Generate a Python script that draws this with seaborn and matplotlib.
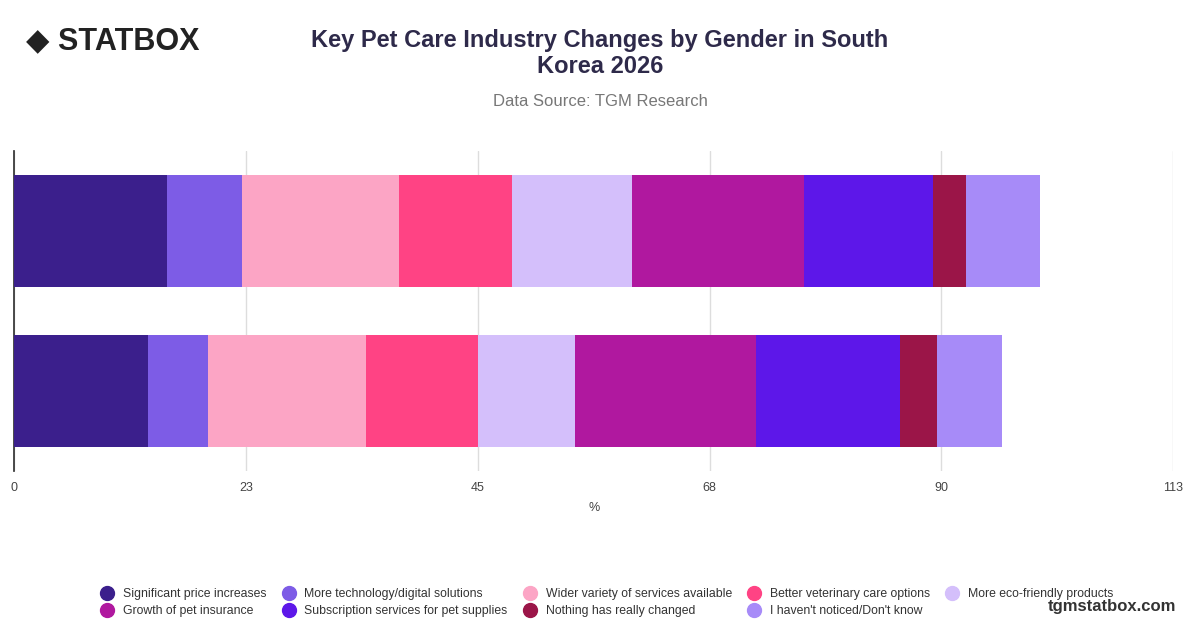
import numpy as np
import pandas as pd
import matplotlib.pyplot as plt
from matplotlib.lines import Line2D
import seaborn as sns

# data
genders = ["Male", "Female"]
categories = [
    "Significant price increases",
    "More technology/digital solutions",
    "Wider variety of services available",
    "Better veterinary care options",
    "More eco-friendly products",
    "Growth of pet insurance",
    "Subscription services for pet supplies",
    "Nothing has really changed",
    "I haven't noticed/Don't know",
]
male_vals = [14.8, 7.3, 15.3, 10.9, 11.7, 16.7, 12.5, 3.2, 7.2]
female_vals = [13.0, 5.8, 15.4, 10.8, 9.4, 17.6, 14.0, 3.6, 6.3]
colors = ["#3b1f8c", "#7d5ce6", "#fca5c5", "#ff4384", "#d4bffb",
          "#b0189f", "#5d17e9", "#9b1548", "#a78bf8"]
tick_vals = [0, 22.5, 45, 67.5, 90, 112.5]
tick_labels = ["0", "23", "45", "68", "90", "113"]

df = pd.DataFrame({"Male": male_vals, "Female": female_vals}, index=categories)

sns.set_theme(style="white")
plt.rcParams['font.family'] = ['Liberation Sans', 'DejaVu Sans']

fig = plt.figure(figsize=(12, 6.28), dpi=100)
ax = fig.add_axes([0.0117, 0.25, 0.966, 0.51])

left = np.zeros(len(genders))
for cat, col in zip(categories, colors):
    vals = df.loc[cat, genders].values
    ax.barh(range(len(genders)), vals, left=left, height=0.7, color=col, edgecolor="none", zorder=3)
    left += vals

ax.set_xlim(0, 112.5)
ax.set_ylim(1.5, -0.5)
ax.set_yticks([])
ax.set_xticks(tick_vals)
ax.set_xticklabels(tick_labels, fontsize=9, color="#444444")
ax.tick_params(axis="x", length=0, pad=8)
ax.xaxis.grid(True, color="#dddddd", linewidth=1, zorder=0)
for s in ["top", "right", "bottom"]:
    ax.spines[s].set_visible(False)
ax.spines["left"].set_color("#333333")
ax.set_xlabel("%", fontsize=9, color="#444444", labelpad=6)

fig.text(0.5, 0.915, "Key Pet Care Industry Changes by Gender in South\nKorea 2026",
         ha="center", va="center", fontsize=17, fontweight="bold", color="#2e2a4a", linespacing=1.2)
fig.text(0.5, 0.838, "Data Source: TGM Research", ha="center", va="center",
         fontsize=12, color="#777777")
fig.text(0.022, 0.935, "◆ STATBOX", ha="left", va="center", fontsize=22,
         fontweight="bold", color="#222222")
fig.text(0.98, 0.034, "tgmstatbox.com", ha="right", va="center", fontsize=12,
         fontweight="bold", color="#333333")

# legend filled row by row: matplotlib fills columns, so interleave
order = [0, 5, 1, 6, 2, 7, 3, 8, 4]
handles = [Line2D([0], [0], marker="o", linestyle="", markersize=10,
                  markerfacecolor=colors[i], markeredgecolor=colors[i]) for i in order]
labels = [categories[i] for i in order]
fig.legend(handles, labels, loc="lower left", bbox_to_anchor=(0.07, 0.0),
           ncol=5, frameon=False, fontsize=8.8, handletextpad=0.3,
           columnspacing=0.8, labelspacing=0.4, labelcolor="#333333")

fig.savefig("out.png", dpi=100)
